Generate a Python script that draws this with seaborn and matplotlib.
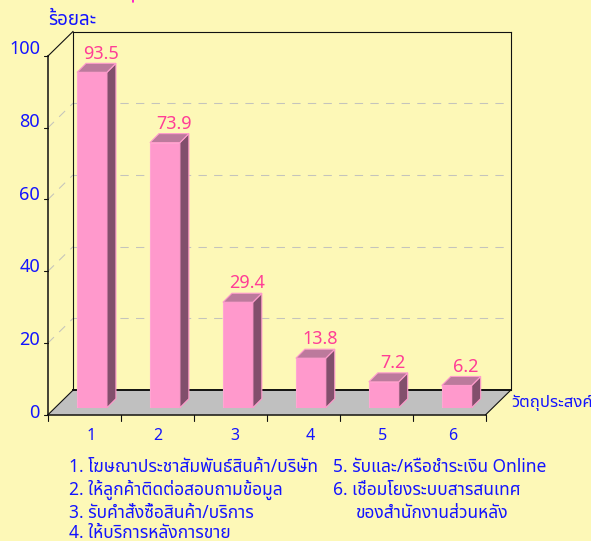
import numpy as np
import pandas as pd
from matplotlib import pyplot as plt
import matplotlib as mpl
import seaborn as sns

# Chart data
objectives = ['1', '2', '3', '4', '5', '6']
percents = [93.5, 73.9, 29.4, 13.8, 7.2, 6.2]
y_ticks = [0, 20, 40, 60, 80, 100]
legend_left = ['1. โฆษณาประชาสัมพันธ์สินค้า/บริษัท',
               '2. ให้ลูกค้าติดต่อสอบถามข้อมูล',
               '3. รับคำสั่งซื้อสินค้า/บริการ',
               '4. ให้บริการหลังการขาย']
legend_right = ['5. รับและ/หรือชำระเงิน Online',
                '6. เชื่อมโยงระบบสารสนเทศ']
legend_right_cont = 'ของสำนักงานส่วนหลัง'
y_title = 'ร้อยละ'
x_title = 'วัตถุประสงค์'

# Colours
BG = '#FDF8B7'
BLUE = '#1414FF'
PINK = '#FF99CC'
LABEL_PINK = '#FF3E96'

sns.set_theme(style='white')
plt.rcParams['font.family'] = ['Noto Sans Thai', 'Sarabun', 'DejaVu Sans']

W, H = 591, 541
fig = plt.figure(figsize=(W / 100, H / 100), dpi=100, facecolor=BG)

# Frame geometry in pixels
x0, x1 = 48, 485.7
y0, y100 = 414.7, 56
wall_dx, wall_dy = 25, 24.5
px_per_unit = (y0 - y100) / 100


# Axes rectangle from pixel edges
def rect(left, right, top, bottom):
    return [left / W, 1 - bottom / H, (right - left) / W, (bottom - top) / H]


# Overlay in pixel coordinates for the frame and the texts
frame = fig.add_axes([0, 0, 1, 1], zorder=1)
frame.set_xlim(0, W)
frame.set_ylim(H, 0)
frame.axis('off')

# Floor
frame.fill([x0, x0 + wall_dx, x1 + wall_dx, x1], [y0, y0 - wall_dy, y0 - wall_dy, y0],
           color='#C0C0C0', lw=0)

# Dashed grid on both walls
for v in y_ticks[1:-1]:
    yy = y0 - v * px_per_unit
    frame.plot([x0 + wall_dx, x1 + wall_dx], [yy - wall_dy, yy - wall_dy], color='#C4C4BC', lw=0.75,
               dashes=(8, 7))
    frame.plot([x0, x0 + wall_dx], [yy, yy - wall_dy], color='#C4C4BC', lw=0.75, dashes=(8, 7))

# Black outlines
line = dict(color='#111111', solid_capstyle='projecting')
frame.plot([x0, x0], [y100, y0], lw=1.1, **line)
frame.plot([x0, x1], [y0, y0], lw=1.1, **line)
frame.plot([x0 + wall_dx, x0 + wall_dx], [y100 - wall_dy, y0 - wall_dy], lw=0.8, **line)
frame.plot([x1 + wall_dx, x1 + wall_dx], [y100 - wall_dy, y0 - wall_dy], lw=0.8, **line)
frame.plot([x0 + wall_dx, x1 + wall_dx], [y100 - wall_dy, y100 - wall_dy], lw=0.8, **line)
frame.plot([x0 + wall_dx, x1 + wall_dx], [y0 - wall_dy, y0 - wall_dy], lw=1.4, **line)
frame.plot([x0, x0 + wall_dx], [y100, y100 - wall_dy], lw=0.8, **line)
frame.plot([x0, x0 + wall_dx], [y0, y0 - wall_dy], lw=0.8, **line)
frame.plot([x1, x1 + wall_dx], [y0, y0 - wall_dy], lw=0.8, **line)

# Ticks
for v in y_ticks:
    yy = y0 - v * px_per_unit
    frame.plot([x0 - 4, x0], [yy, yy], color='#111111', lw=0.8)
    frame.text(40, 413 - v * 3.64, str(v), color=BLUE, fontsize=13, ha='right', va='center')
slot = (x1 - x0) / len(objectives)
for i in range(len(objectives) + 1):
    frame.plot([x0 + i * slot] * 2, [y0, y0 + 6], color='#111111', lw=0.8)
for name, xx in zip(objectives, [91, 157.5, 235, 310, 383, 453]):
    frame.text(xx, 436, name, color=BLUE, fontsize=11.5, ha='center', va='center')

# Axis titles
frame.text(48, 20, y_title, color=BLUE, fontsize=13.5, fontweight='bold', ha='left', va='center')
frame.text(511, 403, x_title, color=BLUE, fontsize=12, ha='left', va='center', clip_on=True)

# Legend text
for text, yy in zip(legend_left, [467, 489.5, 512.5, 533.5]):
    frame.text(69, yy, text, color=BLUE, fontsize=12.5, ha='left', va='center')
for text, yy in zip(legend_right, [467, 490]):
    frame.text(333, yy, text, color=BLUE, fontsize=12.5, ha='left', va='center')
frame.text(355, 513, legend_right_cont, color=BLUE, fontsize=12.5, ha='left', va='center')

# Bottom of the title that is cut off in the picture
frame.plot([132.5, 132.5], [0, 2], color='#FF00CC', lw=1.2)

# The bars stand a little inside the floor, so their axes are shifted from the front plane
shift_x, shift_y = 7.5, 7
bars_ax = fig.add_axes(rect(x0 + shift_x, x1 + shift_x, y100 - shift_y, y0 - shift_y), zorder=2)
bars_ax.patch.set_alpha(0)
df = pd.DataFrame({'objective': objectives, 'percent': percents})
sns.barplot(data=df, x='objective', y='percent', order=objectives, ax=bars_ax, color=PINK,
            saturation=1, width=0.41, edgecolor='#FFA6D2', linewidth=0.8)
bars_ax.set_xlim(-0.5, len(objectives) - 0.5)
bars_ax.set_ylim(0, 100)
bars_ax.axis('off')

# Side and top faces of every bar, from the bar that seaborn drew
depth_x = 9 / slot
depth_y = 9 / px_per_unit
for bar, value in zip(bars_ax.patches, percents):
    left = bar.get_x()
    right = left + bar.get_width()
    top = bar.get_height()
    bars_ax.fill([right, right + depth_x, right + depth_x, right],
                 [0, depth_y, top + depth_y, top],
                 facecolor='#824F6C', edgecolor='#FF9CCC', lw=0.8, clip_on=False)
    bars_ax.fill([left, left + depth_x, right + depth_x, right],
                 [top, top + depth_y, top + depth_y, top],
                 facecolor='#BC7A9C', edgecolor='#FF9CCC', lw=0.8, clip_on=False)
    bars_ax.annotate(str(value), xy=((left + right) / 2, top), xytext=(6.5, 13.5),
                     textcoords='offset points', color=LABEL_PINK, fontsize=13,
                     ha='center', va='center', annotation_clip=False)

plt.savefig('out.png', dpi=100, facecolor=BG)
